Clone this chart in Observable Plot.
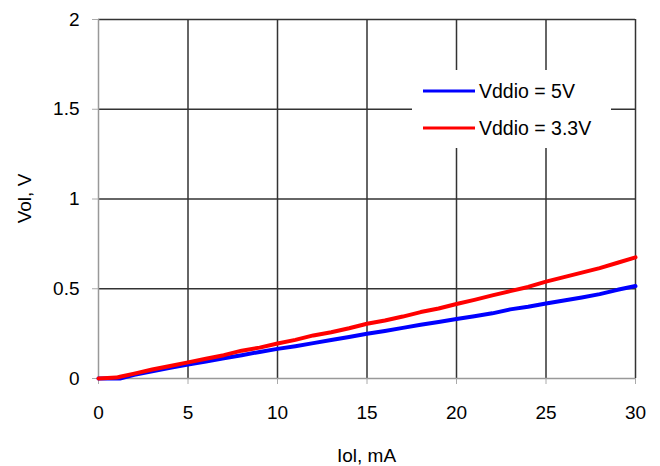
<!DOCTYPE html>
<html>
<head>
<meta charset="utf-8">
<script src="https://cdn.jsdelivr.net/npm/d3@7"></script>
<script src="https://cdn.jsdelivr.net/npm/@observablehq/plot@0.6"></script>
<style>
  html, body { margin: 0; padding: 0; background: #fff; }
  #chart { width: 660px; height: 466px; }
</style>
</head>
<body>
<div id="chart"></div>
<script>
const iol = [0, 1, 1.2, 2, 3, 4, 5, 6, 7, 8, 9, 10, 11, 12, 13, 14, 15, 16, 17, 18, 19, 20, 21, 22, 23, 24, 25, 26, 27, 28, 29, 30];
const vol5V = [0, 0, 0, 0.02, 0.04, 0.06, 0.078, 0.095, 0.113, 0.13, 0.148, 0.165, 0.18, 0.197, 0.214, 0.231, 0.249, 0.265, 0.282, 0.299, 0.315, 0.332, 0.347, 0.363, 0.385, 0.4, 0.418, 0.434, 0.451, 0.47, 0.494, 0.515];
const vol33V = [0, 0.005, 0.01, 0.027, 0.05, 0.07, 0.09, 0.11, 0.13, 0.155, 0.172, 0.195, 0.215, 0.24, 0.258, 0.28, 0.305, 0.323, 0.345, 0.37, 0.39, 0.415, 0.438, 0.463, 0.487, 0.51, 0.54, 0.565, 0.59, 0.615, 0.645, 0.675];
const seriesNames = ["Vddio = 5V", "Vddio = 3.3V"];
const seriesColors = ["#0000ff", "#ff0000"];
const xTicks = [0, 5, 10, 15, 20, 25, 30];
const yTicks = [0, 0.5, 1, 1.5, 2];
const yTickLabels = ["0", "0.5", "1", "1.5", "2"];

const rows = [];
[vol5V, vol33V].forEach((vals, s) => {
  iol.forEach((x, i) => rows.push({x, y: vals[i], series: seriesNames[s]}));
});

const font = "'Liberation Sans', Arial, sans-serif";
const plot = Plot.plot({
  width: 660,
  height: 466,
  marginLeft: 98,
  marginRight: 25,
  marginTop: 19,
  marginBottom: 88,
  style: {fontFamily: font, fontSize: "19px", color: "#000", background: "#fff"},
  x: {domain: [0, 30], ticks: xTicks, tickSize: 6, tickPadding: 21, label: null},
  y: {domain: [0, 2], ticks: yTicks, tickSize: 6, tickPadding: 13, label: null, tickFormat: (d, i) => yTickLabels[i]},
  color: {domain: seriesNames, range: seriesColors},
  marks: [
    Plot.ruleX(xTicks.filter(d => d > 0), {stroke: "#333", strokeWidth: 1.5, strokeOpacity: 1}),
    Plot.ruleY(yTicks.filter(d => d > 0), {stroke: "#333", strokeWidth: 1.5, strokeOpacity: 1}),
    Plot.ruleX([0], {stroke: "#999", strokeWidth: 1.5}),
    Plot.ruleY([0], {stroke: "#999", strokeWidth: 1.5}),
    Plot.axisX({ticks: xTicks, tickSize: 6, tickPadding: 21, stroke: "#aaa", fill: "#000", label: null}),
    Plot.axisY({ticks: yTicks, tickSize: 6, tickPadding: 13, stroke: "#aaa", fill: "#000", label: null, tickFormat: (d, i) => yTickLabels[i]}),
    Plot.line(rows, {x: "x", y: "y", z: "series", stroke: "series", strokeWidth: 4, curve: "linear"})
  ]
});

const svg = d3.select(plot);
const xs = plot.scale("x"), ys = plot.scale("y");
// Legend box (covers gridlines)
const lg = svg.append("g").attr("text-anchor", "start");
lg.append("rect").attr("x", 412).attr("y", 70).attr("width", 199).attr("height", 78).attr("fill", "#fff");
seriesNames.forEach((name, i) => {
  const yy = 91 + i * 37;
  lg.append("line").attr("x1", 423).attr("x2", 475).attr("y1", yy).attr("y2", yy)
    .attr("stroke", seriesColors[i]).attr("stroke-width", 3);
  lg.append("text").attr("x", 479).attr("y", yy).attr("dy", "0.35em")
    .attr("text-anchor", "start").style("text-anchor", "start")
    .style("font-family", font).style("font-size", "19.5px").attr("fill", "#000").text(name);
});
// Axis titles
svg.append("text").attr("x", (xs.range[0] + xs.range[1]) / 2).attr("y", 462)
  .attr("text-anchor", "middle").style("font-family", font).style("font-size", "19px").text("Iol, mA");
svg.append("text").attr("transform", `translate(31, ${(ys.range[0] + ys.range[1]) / 2}) rotate(-90)`)
  .attr("text-anchor", "middle").style("font-family", font).style("font-size", "19px").text("Vol, V");

document.getElementById("chart").appendChild(plot);
</script>
</body>
</html>
